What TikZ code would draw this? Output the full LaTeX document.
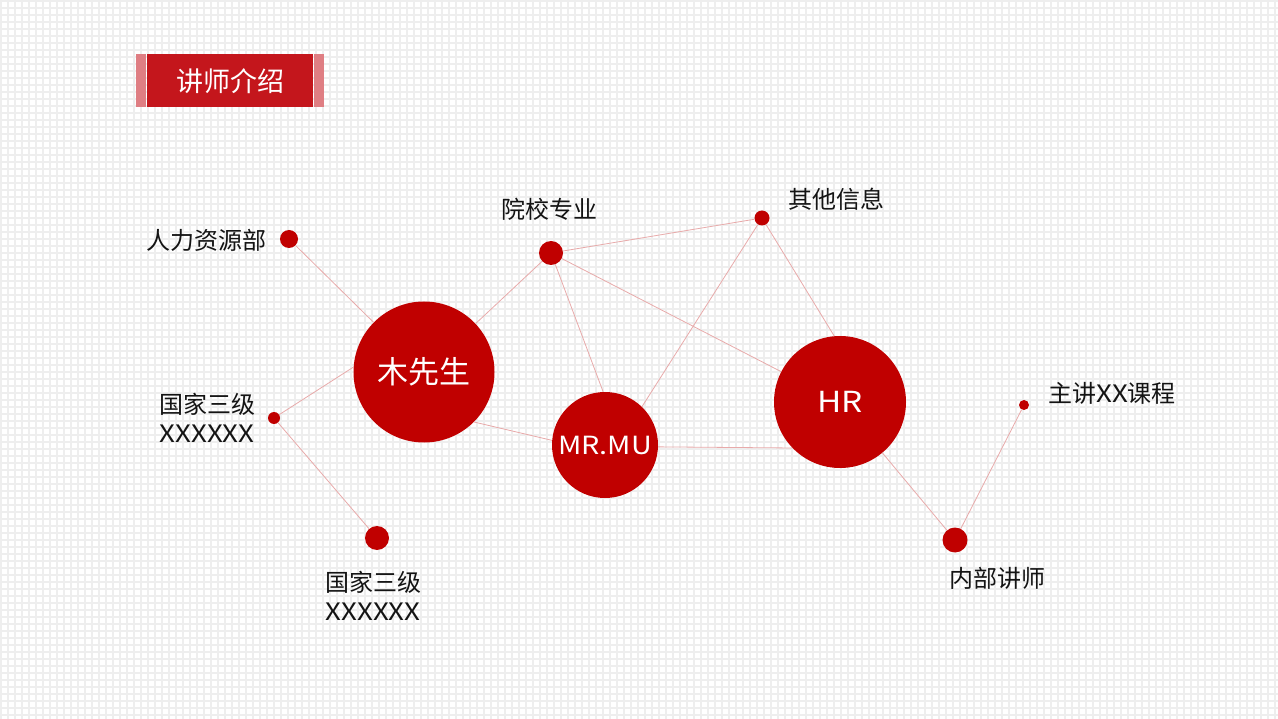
\documentclass[tikz,border=0pt]{standalone}
\usepackage{fontspec}
\setmainfont{Noto Sans CJK SC}
\newfontfamily\wlat[FakeStretch=1.15]{Noto Sans CJK SC}
\definecolor{cred}{HTML}{C00000}
\definecolor{tred}{HTML}{C4161C}
\definecolor{tpink}{HTML}{DF7E83}
\definecolor{linkc}{HTML}{E8AAAA}
\definecolor{gridc}{HTML}{EEEEEE}
\definecolor{txt}{HTML}{141414}
\tikzset{
  bigc/.style={circle, fill=cred, text=white, inner sep=0pt},
  dotc/.style={circle, fill=cred, inner sep=0pt},
  link/.style={draw=linkc, line width=0.8pt},
  lbl/.style={text=txt, inner sep=0pt, font=\fontsize{24}{29}\selectfont, align=center},
  gridline/.style={draw=gridc, line width=1.6pt}
}
\begin{document}
\begin{tikzpicture}[x=1pt,y=-1pt]
\useasboundingbox (0,0) rectangle (1278,719);
\fill[white] (0,0) rectangle (1278,719);
\foreach \i in {0,...,182} \draw[gridline] (1+7*\i,0) -- (1+7*\i,719);
\foreach \j in {0,...,102} \draw[gridline] (0,1+7*\j) -- (1278,1+7*\j);

% title
\node[fill=tpink, minimum width=10pt, minimum height=53pt, inner sep=0pt] (tl) at (141,81) {};
\node[fill=tpink, minimum width=10pt, minimum height=53pt, inner sep=0pt] (tr) at (319,81) {};
\node[fill=tred, minimum width=166pt, minimum height=53pt, inner sep=0pt, text=white,
      font=\fontsize{27}{30}\selectfont] (title) at (230,81) {讲师介绍};

% big circles
\node[bigc, minimum size=141pt, font=\fontsize{31}{34}\selectfont] (mu) at (424,372) {木先生};
\node[bigc, minimum size=106pt, font=\fontsize{25}{28}\selectfont] (mrmu) at (605,445) {\wlat MR.MU};
\node[bigc, minimum size=132pt, font=\fontsize{29}{32}\selectfont] (hr) at (840,402) {\wlat HR};

% small dots
\node[dotc, minimum size=18pt] (d1) at (289,239) {};
\node[dotc, minimum size=24pt] (d2) at (551,253) {};
\node[dotc, minimum size=15pt] (d3) at (762,218) {};
\node[dotc, minimum size=12pt] (d4) at (274,418) {};
\node[dotc, minimum size=24pt] (d5) at (377,538) {};
\node[dotc, minimum size=25pt] (d6) at (955,540) {};
\node[dotc, minimum size=10pt] (d7) at (1024,405) {};

% connectors
\draw[link] (d1) -- (mu);
\draw[link] (mu) -- (d2);
\draw[link] (d4) -- (mu.176);
\draw[link] (d4) -- (d5);
\draw[link] (mu.-45) -- (mrmu.175);
\draw[link] (d2) -- (mrmu.92);
\draw[link] (d2) -- (d3);
\draw[link] (d2) -- (hr);
\draw[link] (mrmu.46) -- (d3);
\draw[link] (d3) -- (hr.95);
\draw[link] (mrmu.-2) -- (hr.224);
\draw[link] (hr) -- (d6);
\draw[link] (d6) -- (d7);

% labels
\node[lbl, anchor=east] (l1) at (267,240) {人力资源部};
\node[lbl] (l2) at (549,209) {院校专业};
\node[lbl] (l3) at (836,199) {其他信息};
\node[lbl] (l4) at (207,418) {国家三级\\{\wlat XXXXXX}};
\node[lbl] (l5) at (373,596) {国家三级\\{\wlat XXXXXX}};
\node[lbl, anchor=west] (l6) at (1048,393) {主讲{\wlat XX}课程};
\node[lbl] (l7) at (997,578) {内部讲师};
\end{tikzpicture}
\end{document}
